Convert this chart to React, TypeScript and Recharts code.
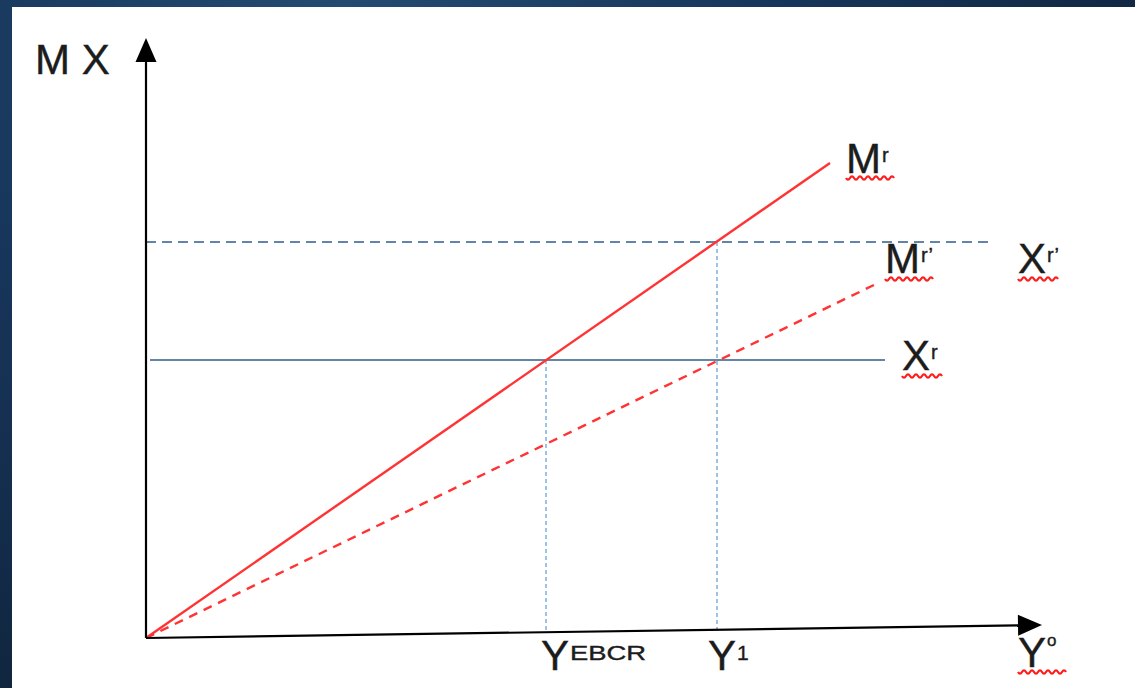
import React from 'react';
import { ComposedChart, Line, XAxis, YAxis, ReferenceLine, ReferenceDot } from 'recharts';

// Conceptual diagram values (axis units)
const Y_EBCR = 4.0;
const Y_1 = 5.71;
const X_R = 2.78;
const X_R_PRIME = 3.96;

const mrLine = [
  { x: 0, y: 0 },
  { x: 6.84, y: 4.75 },
];
const mrPrimeLine = [
  { x: 0, y: 0 },
  { x: 7.32, y: 3.55 },
];
const xrLine = [
  { x: 0.04, y: X_R },
  { x: 7.39, y: X_R },
];
const xrPrimeLine = [
  { x: 0, y: X_R_PRIME },
  { x: 8.44, y: X_R_PRIME },
];
const yEbcrDrop = [
  { x: Y_EBCR, y: X_R },
  { x: Y_EBCR, y: 0.06 },
];
const y1Drop = [
  { x: Y_1, y: X_R_PRIME },
  { x: Y_1, y: 0.084 },
];
const xAxisEnd = { x: 8.96, y: 0.13 };
const yAxisEnd = { x: 0, y: 6.0 };

const FONT = '"Liberation Sans", Arial, sans-serif';
const TEXT_COLOR = '#1c1c1c';

const wavyPath = (x0: number, y: number, width: number) => {
  let d = `M ${x0} ${y}`;
  const steps = Math.floor(width / 4);
  for (let i = 0; i < steps; i++) {
    d += ` q 2 ${i % 2 === 0 ? 3.4 : -3.4} 4 0`;
  }
  return d;
};

type LabelProps = {
  cx?: number;
  cy?: number;
  dx: number;
  dy: number;
  main: string;
  sup?: string;
  supSize?: number;
  supDy?: number;
  supLength?: number;
  wavy?: number;
  wavyDy?: number;
};

const DiagramLabel = ({ cx = 0, cy = 0, dx, dy, main, sup, supSize = 20, supDy = -11, supLength, wavy, wavyDy = 6 }: LabelProps) => {
  const x = cx + dx;
  const y = cy + dy;
  return (
    <g>
      <text x={x} y={y} fontSize={42} fontFamily={FONT} fill={TEXT_COLOR} stroke={TEXT_COLOR} strokeWidth={0.4}>
        {main}
        {sup ? (
          <tspan
            fontSize={supSize}
            dy={supDy}
            dx={1}
            {...(supLength ? { textLength: supLength, lengthAdjust: 'spacingAndGlyphs' } : {})}
          >
            {sup}
          </tspan>
        ) : null}
      </text>
      {wavy ? <path d={wavyPath(x, y + wavyDy, wavy)} stroke="#ff1e1e" strokeWidth={2.2} fill="none" /> : null}
    </g>
  );
};

const Arrow = (props: any) => {
  const { x1, y1, x2, y2, stroke } = props;
  const ang = Math.atan2(y2 - y1, x2 - x1);
  const len = 24;
  const half = 10.5;
  const bx = x2 - len * Math.cos(ang);
  const by = y2 - len * Math.sin(ang);
  const px = -Math.sin(ang) * half;
  const py = Math.cos(ang) * half;
  return (
    <g>
      <line x1={x1} y1={y1} x2={bx + 2 * Math.cos(ang)} y2={by + 2 * Math.sin(ang)} stroke={stroke} strokeWidth={2.2} />
      <polygon points={`${x2},${y2} ${bx + px},${by + py} ${bx - px},${by - py}`} fill={stroke} />
    </g>
  );
};

export default function App() {
  return (
    <div
      style={{
        position: 'absolute',
        left: 0,
        top: 0,
        width: 1135,
        height: 688,
        overflow: 'hidden',
        background:
          'radial-gradient(ellipse at 30% 0%, #234b72 0%, #17355a 40%, #0c1c2e 100%)',
      }}
    >
      <div style={{ position: 'absolute', left: 12, top: 7, right: 0, bottom: 0, background: '#ffffff' }} />
      <div style={{ position: 'absolute', left: 0, top: 0 }}>
        <ComposedChart width={1135} height={688} margin={{ top: 38, right: 89, bottom: 50, left: 146 }}>
          <XAxis type="number" dataKey="x" domain={[0, 9]} hide allowDataOverflow />
          <YAxis type="number" dataKey="y" domain={[0, 6]} hide allowDataOverflow />

          <Line data={yEbcrDrop} dataKey="y" type="linear" stroke="#5b9bd5" strokeWidth={1.2} strokeDasharray="4 3" dot={false} isAnimationActive={false} />
          <Line data={y1Drop} dataKey="y" type="linear" stroke="#5b9bd5" strokeWidth={1.2} strokeDasharray="4 3" dot={false} isAnimationActive={false} />
          <Line data={xrLine} dataKey="y" type="linear" stroke="#2f5c88" strokeWidth={1.6} dot={false} isAnimationActive={false} />
          <Line data={xrPrimeLine} dataKey="y" type="linear" stroke="#2f5c88" strokeWidth={1.6} strokeDasharray="10 6" dot={false} isAnimationActive={false} />
          <Line data={mrPrimeLine} dataKey="y" type="linear" stroke="#ff3333" strokeWidth={2.4} strokeDasharray="9 7" dot={false} isAnimationActive={false} />
          <Line data={mrLine} dataKey="y" type="linear" stroke="#ff3333" strokeWidth={2.4} dot={false} isAnimationActive={false} />

          <ReferenceLine segment={[{ x: 0, y: 0 }, yAxisEnd]} stroke="#000000" ifOverflow="visible" shape={(p: any) => <Arrow {...p} stroke="#000000" />} />
          <ReferenceLine segment={[{ x: 0, y: 0 }, xAxisEnd]} stroke="#000000" ifOverflow="visible" shape={(p: any) => <Arrow {...p} stroke="#000000" />} />

          <ReferenceDot x={0} y={6} r={0} ifOverflow="visible" shape={(p: any) => <DiagramLabel {...p} dx={-111} dy={36} main="M X" />} />
          <ReferenceDot x={mrLine[1].x} y={mrLine[1].y} r={0} ifOverflow="visible" shape={(p: any) => <DiagramLabel {...p} dx={16} dy={10} main="M" sup="r" wavy={50} wavyDy={5} />} />
          <ReferenceDot x={mrPrimeLine[1].x} y={mrPrimeLine[1].y} r={0} ifOverflow="visible" shape={(p: any) => <DiagramLabel {...p} dx={7} dy={-10} main="M" sup="r’" wavy={50} />} />
          <ReferenceDot x={xrPrimeLine[1].x} y={X_R_PRIME} r={0} ifOverflow="visible" shape={(p: any) => <DiagramLabel {...p} dx={28} dy={31} main="X" sup="r’" wavy={42} />} />
          <ReferenceDot x={xrLine[1].x} y={X_R} r={0} ifOverflow="visible" shape={(p: any) => <DiagramLabel {...p} dx={17} dy={10} main="X" sup="r" wavy={42} />} />
          <ReferenceDot x={Y_EBCR} y={0} r={0} ifOverflow="visible" shape={(p: any) => <DiagramLabel {...p} dx={-5} dy={32} main="Y" sup="EBCR" supSize={21} supDy={-10} supLength={76} />} />
          <ReferenceDot x={Y_1} y={0} r={0} ifOverflow="visible" shape={(p: any) => <DiagramLabel {...p} dx={-9} dy={32} main="Y" sup="1" supSize={21} supDy={-10} />} />
          <ReferenceDot x={xAxisEnd.x} y={xAxisEnd.y} r={0} ifOverflow="visible" shape={(p: any) => <DiagramLabel {...p} dx={-24} dy={42} main="Y" sup="o" supSize={17} supDy={-21} wavy={50} wavyDy={5} />} />
        </ComposedChart>
      </div>
    </div>
  );
}
